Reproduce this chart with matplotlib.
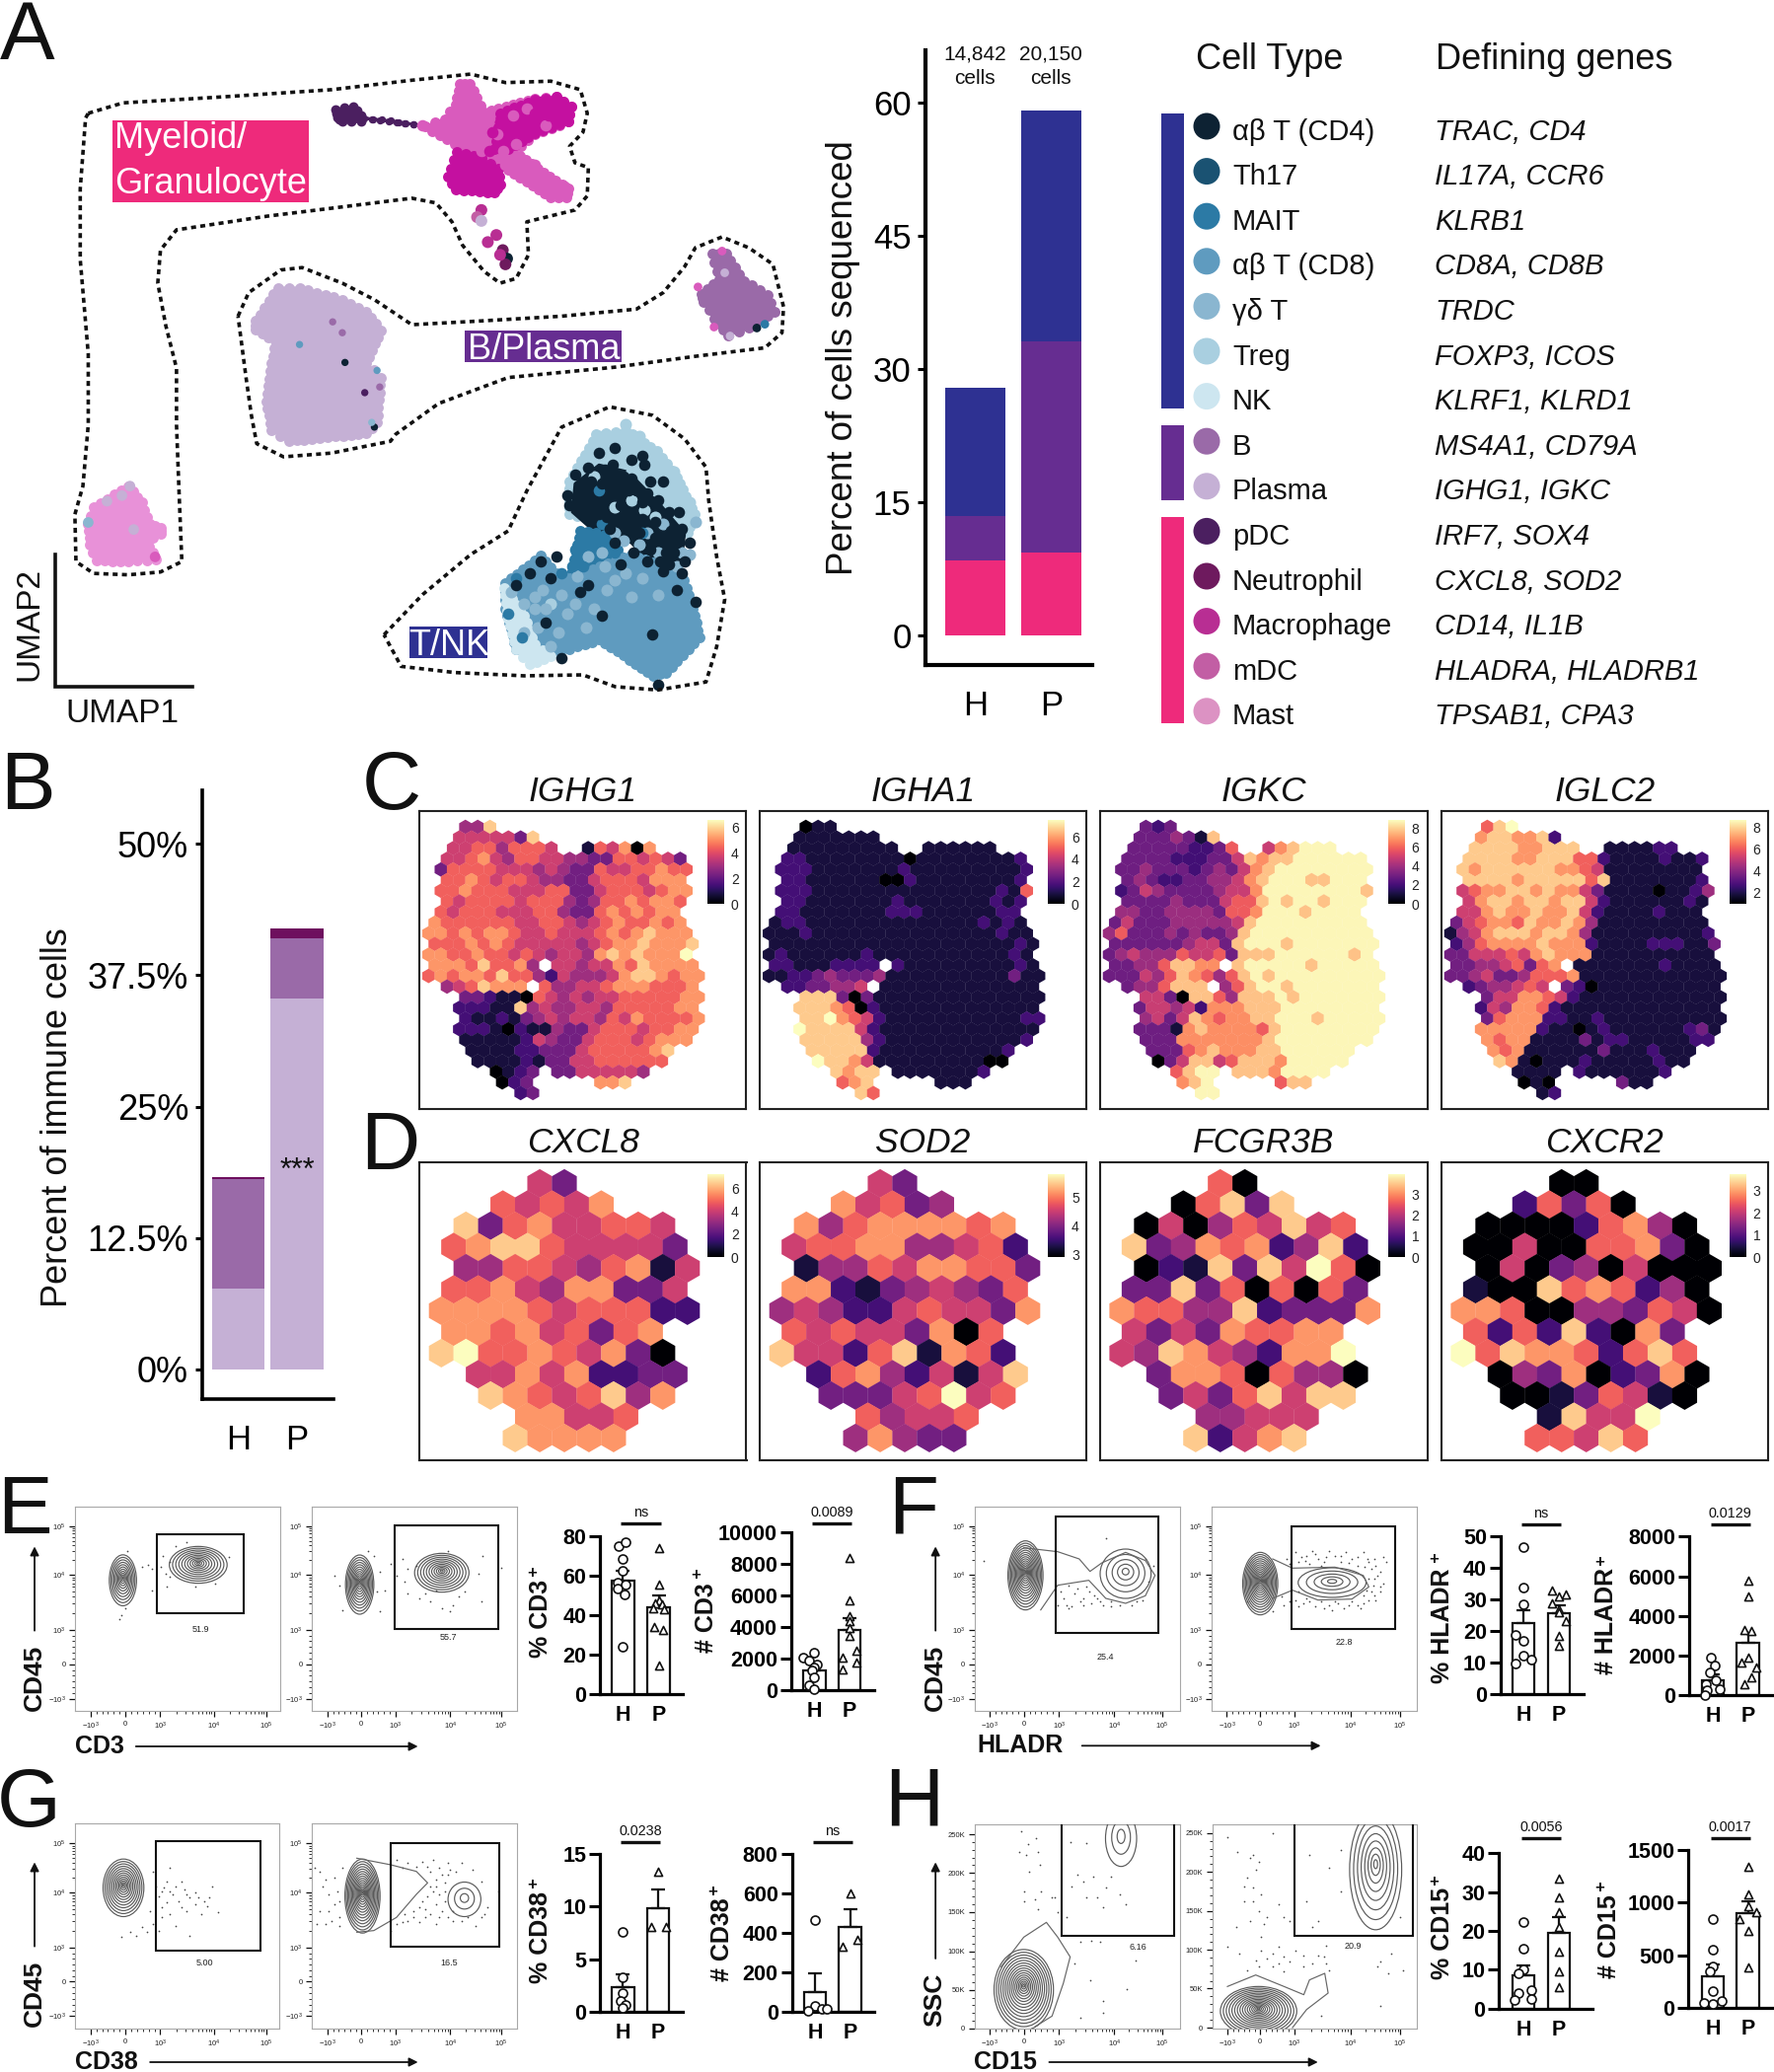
import numpy as np
import matplotlib
matplotlib.use('Agg')
import matplotlib.pyplot as plt
from matplotlib.patches import Ellipse, Polygon, Rectangle

plt.rcParams['font.family'] = ['Liberation Sans', 'DejaVu Sans']
plt.rcParams['mathtext.default'] = 'regular'

W, H = 1799, 2100

# ---- panel A stacked bars
a_myeloid = [8.4, 9.3]
a_bplasma = [5.0, 23.8]
a_tnk = [14.5, 26.0]
a_ticks = [0, 15, 30, 45, 60]
a_cells = ['14,842\ncells', '20,150\ncells']

cell_types = ['αβ T (CD4)', 'Th17', 'MAIT', 'αβ T (CD8)', 'γδ T', 'Treg', 'NK', 'B', 'Plasma',
              'pDC', 'Neutrophil', 'Macrophage', 'mDC', 'Mast']
cell_genes = ['TRAC, CD4', 'IL17A, CCR6', 'KLRB1', 'CD8A, CD8B', 'TRDC', 'FOXP3, ICOS', 'KLRF1, KLRD1',
              'MS4A1, CD79A', 'IGHG1, IGKC', 'IRF7, SOX4', 'CXCL8, SOD2', 'CD14, IL1B',
              'HLADRA, HLADRB1', 'TPSAB1, CPA3']
cell_colors = ['#0d2233', '#1a5272', '#2c7aa5', '#5f9bbf', '#8ab6d0', '#a9cfe0', '#cde6f0', '#9a6aa8',
               '#c5b0d5', '#4b1f60', '#6e1a5e', '#b82e93', '#c25ea4', '#dc92c3']

# ---- panel B stacked bars
b_plasma = [7.7, 35.3]
b_b = [10.4, 5.7]
b_neut = [0.2, 1.0]
b_ticks = [0, 12.5, 25, 37.5, 50]
b_ticklabels = ['0%', '12.5%', '25%', '37.5%', '50%']

# ---- hex maps (0 = darkest, 9 = palest), one string per row
ighg1 = [
    "   448",
    "  5555538",
    "  556646665  165707",
    " 55675466554433665653",
    " 366665554543365566766",
    " 66765665443356665777",
    " 667666555663356665677",
    " 65666656664346676776",
    " 65666555664336767677",
    "766666655665456766767",
    "7767677655655567678777",
    "6667676555554567787778",
    "7766766565455478787779",
    "777686674 554557687777",
    "67677686642544457887677",
    " 4568777 6445567776667",
    "   33211065454556666677",
    "  22211845445546666677",
    "   21121345455465766667",
    "  22210211433566656677",
    "   1111125433566656777",
    "   11112233356666678",
    "    1111213355666666",
    "     0123 33555554",
    "      023     778",
    "       23",
]
igha1 = [
    "   011",
    "  1111111",
    "  111111111  111111",
    " 22111111110111111112",
    " 222111111121111111112",
    " 22111111002111111112",
    " 222111111111111111216",
    " 22111111121111111212",
    " 22111111122211111122",
    "122111111111111112121",
    "1112111111111111111211",
    "1111111111111111111121",
    "1211111121111111111121",
    "221112222 211111111121",
    "11223433341111111111311",
    " 2233445 1111111111111",
    "   88830311111111111111",
    "  88876021111111111111",
    "   88976521111111111122",
    "  98888521111111111111",
    "   8888842111111111112",
    "   88888211111111112",
    "    9887511111111100",
    "     8788 11111112",
    "      678     111",
    "       86",
]
igkc = [
    "   323",
    "  3334318",
    "  333332236  578999",
    " 33332223358788999999",
    " 334333234357899999999",
    " 34322334457899988999",
    " 235433334557999999998",
    " 33334333566898998999",
    " 44334444366799989999",
    "353334444458999999999",
    "4633343433489999999999",
    "3333334553899989999999",
    "3454446556388899999989",
    "334468877 899999899999",
    "33354687646898999999999",
    " 3446888 4689989999999",
    "   55308864888989999999",
    "  35545277788899999999",
    "   45358767788999899999",
    "  33317877776899999999",
    "   3337777777899999999",
    "   33367877788999999",
    "    0358856888799999",
    "     6899 88879999",
    "      789     688",
    "       99",
]
iglc2 = [
    "   689",
    "  7887782",
    "  888877888  111122",
    " 88887788866211112112",
    " 87888888776511111111",
    " 88887888886811111112",
    " 567788787753111101124",
    " 57887887885211111121",
    " 55787787785211112111",
    "356776877874111111111",
    "1457888788741111111112",
    "2467777877721111222113",
    "3355565787771111111111",
    "334456367 111111121111",
    "33453346667111111111111",
    " 2344565 3201111111111",
    "   35577652111111111111",
    "  25477621111111111111",
    "   36777221121111111111",
    "  77777211012111111231",
    "   7677111131221111122",
    "   76711111131112111",
    "    8710111211111211",
    "     1111 21111112",
    "      010     311",
    "       12",
]
cxcl8 = ["    53", "  65657", " 836755665", "6788655553", " 4466546715", "6675477335",
         "77776566622", "776756367", "8966765730", " 557572233", "  87656847", "   77556", "   87777"]
sod2 = ["    53", "  75634", " 746777767", "5667744562", " 1446577663", "7721345436",
        "45422565537", "656553706", "8552681762", " 267425158", "  33356956", "   64556", "   47433"]
fcgr3b = ["    60", "  06838", " 050465856", "8347672482", " 0218385960", "3383606063",
          "76644823337", "535376677", "5487542779", " 377606440", "  35368588", "   44555", "   82578"]
cxcr2 = ["    00", "  26360", " 000026740", "0050066730", " 0503405000", "1008676240",
         "77600443650", "626282073", "9687762686", " 043702370", "  00136510", "   18559", "   66586"]

c_names = ['IGHG1', 'IGHA1', 'IGKC', 'IGLC2']
d_names = ['CXCL8', 'SOD2', 'FCGR3B', 'CXCR2']
c_scale = [(0, 6.6, [0, 2, 4, 6]), (0, 7.5, [0, 2, 4, 6]), (0, 8.9, [0, 2, 4, 6, 8]), (1, 8.7, [2, 4, 6, 8])]
d_scale = [(0, 7.3, [0, 2, 4, 6]), (2.9, 5.8, [3, 4, 5]), (0, 3.95, [0, 1, 2, 3]), (0, 3.75, [0, 1, 2, 3])]

# ---- summary bars for E-H: point values, their jitter, mean and error
e1_h = [74.7, 76.7, 68.5, 62.5, 56.5, 55.5, 53.5, 50.5, 24.0]
e1_hj = [-7, 4, 0, 0, -10, 5, -10, 3, 0]
e1_p = [74, 55.4, 47.6, 46, 45.5, 43.5, 43, 34, 32.7, 14.4]
e1_pj = [0, 0, 0, -6, 6, -10, 10, -8, 8, 0]
e2_h = [2386, 2075, 1867, 1660, 1452, 1245, 830, 311, 104]
e2_hj = [0, -20, -10, 5, 0, -5, 0, -10, 0]
e2_p = [8340, 5705, 4668, 4357, 3942, 3423, 2490, 2075, 1763, 1349]
e2_pj = [0, 0, 0, 0, 0, 0, 12, -13, 12, -13]
f1_h = [46.5, 33.7, 28.6, 18.8, 16.7, 12.0, 11.0, 9.6]
f1_hj = [0, 0, 0, -13, 0, 0, 14, -13]
f1_p = [33, 31.6, 31.0, 28.8, 27, 26, 23, 18.3, 15.2]
f1_pj = [-13, 13, 0, -13, 0, 0, 13, 0, 0]
f2_h = [1890, 1477, 1145, 730, 564, 315, 232, 0]
f2_hj = [-4, 4, -5, 6, -12, 12, -10, -14]
f2_p = [5790, 4960, 3300, 3220, 1890, 1640, 1394, 896, 564]
f2_pj = [0, 0, -6, 6, 0, -12, 14, 6, -6]
g1_h = [7.56, 3.3, 1.8, 1.0, 0.7, 0.4]
g1_hj = [0, 0, 0, -5, 5, 0]
g1_p = [13.3, 8.1, 8.1]
g1_pj = [0, -13, 13]
g2_h = [465, 28, 15, 3, 15]
g2_hj = [0, 0, 12, -12, 20]
g2_p = [598, 365, 332]
g2_pj = [0, 12, -13]
h1_h = [22.2, 15.3, 10.0, 9.1, 4.8, 4.0, 2.5, 2.1]
h1_hj = [0, 0, 0, -8, 14, -8, 14, -15]
h1_p = [33.4, 28.7, 24.9, 20.9, 14.6, 9.5, 5.5]
h1_pj = [0, 0, 0, 0, 0, 0, 0]
h2_h = [844, 556, 390, 344, 156, 62, 47, 40]
h2_hj = [0, 0, 0, -5, 0, 16, -16, 0]
h2_p = [1337, 1078, 969, 906, 844, 734, 381]
h2_pj = [0, 0, 0, 14, -15, 0, 0]

e1_mean, e1_err = [57.5, 44.0], [5.0, 5.8]
e2_mean, e2_err = [1245, 3800], [515, 760]
f1_mean, f1_err = [22.5, 25.6], [4.2, 2.6]
f2_mean, f2_err = [730, 2640], [330, 500]
g1_mean, g1_err = [2.35, 9.8], [1.25, 1.8]
g2_mean, g2_err = [100, 432], [95, 88]
h1_mean, h1_err = [8.56, 19.6], [2.5, 3.9]
h2_mean, h2_err = [303, 903], [113, 113]

# ---- umap cells, in the coordinates of the layout crop
cd4_cells = [(1065, 1070), (1085, 1030), (1100, 990), (1120, 960), (1150, 950), (1180, 975), (1200, 965), (1090, 1090),
             (1115, 1065), (1140, 1030), (1165, 1010), (1190, 1040), (1215, 1020), (1230, 1060), (1250, 1085),
             (1275, 1120), (1260, 1170), (1240, 1210), (1265, 1250), (1300, 1275), (1125, 1305), (1220, 1345),
             (1150, 1150), (1175, 1120), (1200, 1100), (1225, 1140), (1280, 1190), (1040, 1180), (1010, 1190),
             (1030, 1225), (1020, 1320), (1240, 1020), (1205, 985), (1290, 1150), (1075, 1005), (1135, 1095),
             (1160, 1070), (1255, 1125), (990, 1215), (1050, 1395), (1085, 1255), (1160, 1195), (1245, 1170),
             (965, 1240), (1210, 1190), (1145, 985), (1270, 1085), (1060, 1050), (1230, 1450), (1100, 1240),
             (1095, 1060), (1125, 1025), (1150, 1050), (1175, 1040), (1200, 1065), (1120, 1090), (1170, 1090),
             (1195, 1130), (1225, 1105), (1245, 1140), (1265, 1150), (1215, 1165), (1185, 1170), (1250, 1195),
             (1275, 1215), (1180, 1015), (1130, 995), (1105, 1020), (1210, 1045), (1235, 1190), (1140, 1120)]
treg_cells = [(1150, 925), (1190, 940), (1220, 965), (1240, 990), (1265, 1030), (1290, 1065), (1255, 1060), (1230, 985),
              (1170, 900), (1120, 925), (1295, 1095), (1210, 1010), (1180, 1000), (1260, 1000), (1275, 1080),
              (1110, 1010), (1225, 1095), (1030, 1280), (1180, 1060), (1150, 1075), (1195, 925), (1135, 940),
              (1245, 1030), (1280, 1060), (1225, 1040), (1165, 945), (1205, 1080)]
gd_cells = [(1130, 1200), (1170, 1215), (1200, 1225), (1100, 1180), (1230, 1260), (1180, 1265), (1135, 1250), (1050, 1260),
            (1015, 1250), (1000, 1290), (1060, 1300), (1095, 1330), (1045, 1340), (980, 1280), (1290, 1175),
            (1230, 1170), (1150, 1130), (1195, 1155), (1265, 1200), (955, 1255), (1030, 1370), (1080, 1220),
            (1300, 1105), (1125, 1170), (1005, 1330), (1210, 1130), (1240, 1110), (1275, 1170), (1165, 1145),
            (1020, 1290), (1075, 1280), (1110, 1290), (1150, 1230), (980, 1340), (1000, 1265)]
mait_cells = [(1120, 1040), (1095, 1130), (1075, 1165), (1150, 1170), (965, 1225), (1125, 1110), (1200, 1130), (950, 1300),
              (1090, 1200), (1070, 1200), (1110, 1150), (1050, 1215), (975, 1350)]
mye_cells = [(870, 300), (915, 250), (945, 350), (1000, 350), (1055, 395), (985, 230), (1020, 265), (900, 320), (790, 265),
             (830, 285), (1030, 385), (960, 245), (940, 320), (905, 300), (930, 285), (880, 290), (965, 305)]
mac_cells = [(1000, 240), (1040, 225), (990, 265), (960, 275), (1025, 245), (920, 280), (1010, 215), (900, 345), (915, 320)]
small_cells = [(900, 445), (892, 460), (900, 468), (928, 498), (912, 513), (940, 530), (948, 548), (945, 560), (935, 540)]
small_colors = ['#b82e93', '#c25ea4', '#c5b0d5', '#b82e93', '#b82e93', '#6e1a5e', '#0d2233', '#6e1a5e', '#b82e93']
plasma_specks = [(622, 682), (560, 730), (640, 705), (645, 768), (682, 832), (705, 785), (710, 820), (700, 905), (695, 895)]
speck_colors = ['#9a6aa8', '#5f9bbf', '#9a6aa8', '#0d2233', '#4b1f60', '#5f9bbf', '#9a6aa8', '#0d2233', '#8ab6d0']
b_specks = [(1305, 608), (1335, 693), (1415, 695), (1430, 687), (1350, 532), (1355, 578), (1365, 712)]
b_speck_colors = ['#d95bbd', '#d95bbd', '#0d2233', '#2c7aa5', '#d95bbd', '#c5b0d5', '#c5b0d5']
mast_specks = [(165, 1107), (200, 1062), (228, 1050), (243, 1030), (250, 1122), (290, 1180)]
mast_speck_colors = ['#8ab6d0', '#c5b0d5', '#c5b0d5', '#c5b0d5', '#c5b0d5', '#d95bbd']

# ---- flow cytometry: populations as (x, y, width, height, rings) in the layout crop
e_left_pops = [(217, 365, 48, 155, 11), (350, 318, 102, 112, 11)]
e_right_pops = [(635, 378, 50, 180, 13), (780, 342, 96, 118, 11)]
f_left_pops = [(243, 350, 62, 210, 16), (420, 345, 90, 150, 5)]
f_right_pops = [(658, 375, 62, 190, 16), (785, 372, 120, 90, 5)]
g_left_pops = [(218, 400, 72, 175, 13)]
g_right_pops = [(640, 425, 62, 225, 16), (820, 435, 58, 105, 3)]
h_left_pops = [(240, 710, 105, 245, 16), (412, 250, 55, 170, 3)]
h_right_pops = [(655, 775, 135, 150, 16), (862, 345, 92, 365, 8)]

f_left_bridge = [(240, 266), (300, 278), (338, 300), (357, 338), (378, 312), (420, 280), (455, 305), (472, 350),
                 (455, 412), (420, 435), (385, 420), (355, 365), (300, 380), (270, 455)]
f_right_bridge = [(680, 300), (715, 328), (790, 325), (840, 350), (850, 385), (820, 422), (760, 425), (715, 395), (680, 420)]
g_right_bridge = [(630, 310), (690, 330), (735, 350), (755, 385), (735, 420), (700, 490), (660, 530), (630, 535)]
h_left_bridge = [(200, 640), (240, 550), (280, 505), (300, 550), (322, 610), (310, 690), (290, 790), (260, 822)]
h_right_bridge = [(600, 700), (650, 665), (700, 700), (735, 725), (745, 680), (772, 660), (778, 720), (740, 770), (715, 825)]

e_left_dots = [(250, 325), (262, 318), (268, 330), (288, 292), (284, 325), (292, 345), (300, 310), (310, 262), (330, 250), (295, 385),
               (268, 395), (225, 275), (215, 470), (222, 450), (210, 482), (300, 355), (380, 375), (345, 385), (405, 295)]
e_right_dots = [(650, 275), (660, 290), (590, 352), (600, 380), (605, 455), (670, 340), (680, 395), (670, 460), (710, 300), (720, 330),
                (715, 370), (735, 320), (720, 405), (740, 420), (760, 430), (780, 450), (800, 440), (820, 400), (850, 430), (845, 345),
                (852, 290), (885, 328), (770, 395), (795, 460), (750, 405), (700, 350), (690, 315), (665, 400), (810, 415), (790, 275)]
f_left_dots = [(170, 305), (385, 237), (320, 380), (330, 405), (345, 420), (360, 435), (310, 420), (325, 445), (345, 440), (370, 420),
               (380, 440), (395, 430), (440, 430), (455, 300), (460, 370), (300, 440), (335, 390), (355, 400), (395, 445), (470, 320),
               (305, 400), (315, 440), (340, 430), (350, 385), (365, 410), (375, 430), (320, 450), (410, 440), (430, 440), (450, 425)]
f_right_dots = [(720, 280), (740, 290), (760, 300), (780, 275), (800, 290), (820, 300), (840, 280), (860, 300), (875, 295), (725, 310),
                (745, 315), (770, 310), (800, 310), (830, 320), (855, 330), (865, 350), (870, 385), (860, 410), (850, 425), (830, 440),
                (805, 450), (780, 440), (755, 445), (735, 435), (720, 425), (700, 440), (680, 460), (635, 430), (850, 360), (855, 400),
                (725, 400), (740, 420), (765, 430), (790, 428), (820, 428), (840, 412), (848, 300), (790, 290), (750, 275), (705, 300),
                (730, 295), (755, 285), (775, 295), (810, 280), (830, 295), (850, 310), (862, 320), (870, 340), (860, 360), (858, 380),
                (845, 395), (862, 425), (840, 435), (815, 440), (795, 435), (770, 450), (745, 430), (725, 445), (710, 430), (695, 415),
                (870, 400), (875, 375), (738, 305), (765, 322), (815, 312), (842, 325), (710, 315), (880, 310), (835, 450), (785, 455)]
g_left_dots = [(275, 395), (285, 410), (295, 380), (300, 340), (305, 420), (315, 440), (325, 405), (335, 430), (345, 415), (360, 440),
               (375, 395), (385, 475), (370, 430), (355, 480), (330, 470), (300, 480), (285, 460), (270, 510), (280, 530), (335, 545),
               (250, 520), (240, 545), (230, 535), (215, 550), (270, 350), (345, 450), (320, 380), (295, 445), (310, 515), (265, 470),
               (280, 425), (290, 400), (310, 395), (330, 420), (350, 430), (365, 455), (320, 460), (300, 410), (285, 490), (260, 535)]
g_right_dots = [(555, 340), (570, 395), (580, 420), (590, 450), (560, 510), (585, 500), (600, 490), (605, 340), (590, 370), (700, 315),
                (720, 325), (745, 320), (765, 315), (790, 325), (815, 325), (835, 345), (760, 395), (775, 420), (770, 450), (760, 480),
                (740, 505), (720, 500), (700, 510), (790, 490), (815, 500), (840, 515), (855, 480), (785, 385), (760, 350), (745, 440),
                (730, 470), (770, 510), (800, 470), (780, 360), (805, 350), (850, 380), (880, 410), (750, 465), (715, 480), (690, 530),
                (565, 350), (575, 375), (595, 410), (565, 470), (580, 470), (600, 440), (575, 510), (600, 515), (710, 340), (735, 335),
                (755, 335), (775, 340), (795, 345), (770, 375), (765, 410), (785, 440), (780, 470), (750, 490), (730, 490), (710, 505),
                (775, 490), (800, 500), (825, 490), (850, 490), (860, 460), (785, 410), (755, 425), (740, 460), (770, 395), (790, 360)]
h_left_dots = [(235, 228), (262, 250), (248, 268), (232, 290), (268, 330), (240, 410), (260, 435), (290, 430), (322, 262), (350, 265),
               (335, 360), (362, 365), (325, 395), (370, 430), (385, 400), (350, 430), (315, 490), (380, 460), (340, 565), (360, 560),
               (330, 630), (358, 680), (437, 620), (422, 708), (380, 745), (340, 795), (380, 780), (295, 430), (410, 420), (420, 450),
               (245, 300), (265, 290), (250, 350), (240, 440), (270, 410), (265, 465), (300, 475), (375, 565), (345, 380), (395, 365)]
h_right_dots = [(600, 245), (680, 235), (617, 290), (645, 300), (655, 320), (635, 370), (645, 400), (660, 420), (630, 440), (655, 470),
                (670, 490), (640, 500), (660, 550), (680, 600), (650, 620), (600, 580), (700, 610), (720, 590), (760, 605), (775, 630),
                (870, 625), (910, 650), (885, 660), (800, 285), (760, 500), (750, 520), (775, 575), (710, 500), (700, 490), (905, 490),
                (870, 760), (765, 790), (740, 440), (800, 410), (780, 340), (745, 300), (690, 450), (615, 520), (890, 600), (865, 640),
                (640, 310), (650, 345), (630, 395), (645, 440), (665, 510), (690, 580), (670, 615), (655, 640), (690, 630), (735, 605),
                (750, 630), (710, 625), (735, 640), (680, 640), (660, 590), (620, 600), (635, 650), (700, 655), (770, 610), (780, 650)]


def crop_axes(x0, x1, y0, y1, xlim, ylim, zorder=2):
    ax = fig.add_axes([x0 / W, 1 - y1 / H, (x1 - x0) / W, (y1 - y0) / H], zorder=zorder)
    ax.set_xlim(*xlim)
    ax.set_ylim(*ylim)
    ax.patch.set_alpha(0)
    return ax


def px(crop, zx, zy):
    return crop[0] + zx / crop[2], crop[1] + zy / crop[3]


fig = plt.figure(figsize=(W / 100, H / 100), dpi=100, facecolor='white')
ov = crop_axes(0, W, 0, H, (0, W), (H, 0), zorder=1)
ov.set_xticks([])
ov.set_yticks([])
ov.axis('off')


def txt(x, y, s, size, **kw):
    kw.setdefault('ha', 'center')
    kw.setdefault('va', 'center')
    kw.setdefault('color', '#111111')
    return ov.text(x, y, s, fontsize=size, **kw)


for letter, lx, ly in [('A', 0, 60), ('B', 0, 820), ('C', 367, 820), ('D', 365, 1185),
                       ('E', -3, 1554), ('F', 900, 1554), ('G', -3, 1851), ('H', 896, 1851)]:
    txt(lx, ly, letter, 60, ha='left', va='baseline')

# ---------- panel A, umap
ua = crop_axes(0, 850, 0, 750, (0, 1568), (1568, 0), zorder=2)
ua.set_xticks([])
ua.set_yticks([])
ua.axis('off')


def blob(points, color, z=2, edge=True, s=62):
    ua.add_patch(Polygon(points, closed=True, facecolor=color, edgecolor=color, lw=2, joinstyle='round', zorder=z))
    if not edge:
        return
    # cell-sized dots round the edge give the bumpy outline
    a = np.array(points + points[:1], dtype=float)
    xs, ys = [], []
    for p, q in zip(a[:-1], a[1:]):
        n = max(2, int(np.hypot(*(q - p)) / 14))
        xs += list(np.linspace(p[0], q[0], n, endpoint=False))
        ys += list(np.linspace(p[1], q[1], n, endpoint=False))
    ua.scatter(xs, ys, s=s, c=color, linewidths=0, zorder=z)


blob([(175, 1075), (240, 1030), (265, 1065), (280, 1110), (300, 1118), (300, 1132), (272, 1145), (292, 1185), (240, 1190),
      (180, 1188), (168, 1155), (165, 1110)], '#e891d8')
blob([(478, 680), (520, 610), (560, 610), (640, 635), (685, 660), (712, 700), (685, 770), (712, 800), (705, 895), (685, 918),
      (540, 935), (508, 912), (498, 850), (508, 770), (515, 722), (478, 698)], '#c5b0d5')
blob([(1332, 538), (1358, 538), (1390, 595), (1435, 625), (1448, 660), (1400, 695), (1362, 710), (1335, 675), (1316, 640),
      (1312, 622), (1345, 592)], '#9a6aa8')
blob([(628, 232), (660, 225), (675, 245), (675, 258), (640, 258), (630, 248)], '#4b1f60', s=50)
blob([(680, 250), (730, 256), (788, 266)], '#4b1f60', s=28)
blob([(860, 178), (878, 178), (905, 238), (1000, 210), (1040, 205), (1068, 225), (1062, 258), (1000, 285), (960, 322), (1062, 400),
      (1058, 418), (1030, 418), (950, 360), (920, 335), (850, 305), (795, 268), (832, 252), (852, 222)], '#d95bbd')
blob([(935, 240), (1000, 212), (1040, 205), (1068, 225), (1062, 258), (1000, 283), (950, 315), (925, 315)], '#c410a0', 3)
blob([(855, 322), (900, 335), (932, 358), (936, 390), (925, 408), (852, 402), (838, 375)], '#c410a0', 3)
blob([(1115, 920), (1170, 912), (1228, 955), (1265, 1012), (1298, 1090), (1285, 1130), (1065, 1090), (1065, 1020)], '#a9cfe0')
blob([(1075, 1025), (1120, 985), (1175, 1000), (1235, 1070), (1280, 1130), (1272, 1215), (1235, 1215), (1180, 1150), (1100, 1115),
      (1070, 1085)], '#0d2233', 3, edge=False)
blob([(1085, 1125), (1145, 1135), (1160, 1180), (1090, 1220), (1068, 1215)], '#2c7aa5', 3)
blob([(1065, 1225), (1180, 1175), (1275, 1215), (1295, 1290), (1308, 1350), (1245, 1425), (1222, 1432), (1120, 1355), (1080, 1370),
      (1000, 1395), (965, 1375), (945, 1290), (945, 1235), (1010, 1178), (1040, 1215)], '#5f9bbf', 3)
blob([(942, 1245), (980, 1305), (1000, 1365), (1030, 1390), (990, 1408), (965, 1375), (950, 1310)], '#cde6f0', 4)


def cells(pts, color, s, z=5):
    a = np.array(pts)
    ua.scatter(a[:, 0], a[:, 1], s=s, c=color, linewidths=0, zorder=z)


cells(treg_cells, '#a9cfe0', 75)
cells(gd_cells, '#8ab6d0', 75, 6)
cells(mait_cells, '#2c7aa5', 70, 6)
cells(cd4_cells, '#0d2233', 70, 7)
cells(mye_cells, '#d95bbd', 70)
cells(mac_cells, '#c410a0', 70)
cells(small_cells, small_colors, 75)
cells(plasma_specks, speck_colors, 28)
cells(b_specks, b_speck_colors, 40)
cells(mast_specks, mast_speck_colors, 60)

outer = [(165, 240), (230, 218), (420, 205), (620, 190), (770, 170), (880, 157), (945, 175), (1030, 172), (1085, 190), (1098, 240),
         (1090, 280), (1065, 310), (1075, 345), (1100, 355), (1098, 415), (1075, 445), (985, 470), (988, 540), (965, 590), (935, 600),
         (905, 575), (865, 520), (845, 470), (815, 430), (770, 420), (650, 437), (500, 458), (330, 487), (300, 530), (295, 600),
         (310, 690), (330, 780), (330, 900), (335, 1050), (340, 1190), (300, 1212), (240, 1218), (175, 1215), (142, 1190), (140, 1090),
         (155, 1030), (165, 900), (165, 750), (150, 550), (150, 400), (160, 250), (165, 240)]
b_loop = [(445, 670), (465, 620), (525, 572), (565, 567), (640, 600), (700, 635), (770, 688), (900, 680), (1050, 670), (1190, 655),
          (1240, 620), (1280, 565), (1300, 525), (1350, 502), (1400, 525), (1445, 560), (1465, 650), (1462, 705), (1430, 737), (1300, 755),
          (1150, 778), (950, 800), (820, 855), (740, 920), (730, 935), (620, 960), (530, 968), (480, 940), (470, 880), (460, 800), (445, 670)]
t_loop = [(718, 1345), (790, 1260), (880, 1175), (950, 1125), (985, 1040), (1050, 905), (1140, 862), (1220, 880), (1280, 930), (1320, 990),
          (1325, 1060), (1340, 1180), (1355, 1270), (1340, 1370), (1320, 1445), (1230, 1462), (1150, 1455), (1090, 1430), (980, 1432),
          (850, 1425), (750, 1412), (718, 1345)]
for loop in (outer, b_loop, t_loop):
    a = np.array(loop)
    ua.plot(a[:, 0], a[:, 1], color='#111111', lw=2.6, ls=(0, (1.4, 1.2)), zorder=8)

lbl_ax = crop_axes(0, W, 0, H, (0, W), (H, 0), zorder=9)
lbl_ax.set_xticks([])
lbl_ax.set_yticks([])
lbl_ax.axis('off')
for x0, y0, x1, y1, c in [(114, 122, 313, 205, '#ee2a7b'), (471.5, 335, 630, 367, '#662d91'), (415, 635, 494, 667, '#2e3192')]:
    lbl_ax.add_patch(Rectangle((x0, y0), x1 - x0, y1 - y0, facecolor=c, edgecolor='none'))
for lx, ly, s, ha in [(116, 141, 'Myeloid/', 'left'), (116, 186, 'Granulocyte', 'left'), (551, 354, 'B/Plasma', 'center'), (455, 654, 'T/NK', 'center')]:
    lbl_ax.text(lx, ly, s, fontsize=26, color='white', ha=ha, va='center')
ov.plot([56, 56, 195], [562, 696, 696], color='#111111', lw=2.6, solid_joinstyle='miter')
txt(30, 632, 'UMAP2', 24, rotation=90)
txt(124, 724, 'UMAP1', 24)

# ---------- panel A bars
ab = crop_axes(937.5, 1107, 51, 674, (-0.662, 1.539), (-3.37, 65.9))
xa = [0, 1]
ab.bar(xa, a_myeloid, 0.79, color='#ee2a7b')
ab.bar(xa, a_bplasma, 0.79, bottom=a_myeloid, color='#662d91')
ab.bar(xa, a_tnk, 0.79, bottom=np.add(a_myeloid, a_bplasma), color='#2e3192')
ab.set_yticks(a_ticks)
ab.set_xticks(xa, ['H', 'P'])
ab.tick_params(axis='y', labelsize=25, length=6, width=2.2, pad=4)
ab.tick_params(axis='x', labelsize=25, length=0, pad=18)
for s in ('top', 'right'):
    ab.spines[s].set_visible(False)
for s in ('left', 'bottom'):
    ab.spines[s].set_linewidth(3)
txt(855, 363, 'Percent of cells sequenced', 26.5, rotation=90)
txt(988, 67, a_cells[0], 15, linespacing=1.35)
txt(1065, 67, a_cells[1], 15, linespacing=1.35)

# legend table
txt(1212, 60, 'Cell Type', 26, ha='left')
txt(1455, 60, 'Defining genes', 26, ha='left')
for y0, y1, c in [(115, 414, '#2e3192'), (431, 507, '#662d91'), (524, 733, '#ee2a7b')]:
    ov.add_patch(Rectangle((1177.5, y0), 22.5, y1 - y0, facecolor=c, edgecolor='none'))
ly = 128 + 45.6 * np.arange(len(cell_types))
ov.scatter([1223] * len(ly), ly, s=(27 * 0.72) ** 2, c=cell_colors, linewidths=0)
for y, name, gene in zip(ly, cell_types, cell_genes):
    txt(1249, y + 5.5, name, 21, ha='left')
    txt(1454, y + 5.5, gene, 21, ha='left', style='italic')

# ---------- panel B
bb = crop_axes(205, 338, 801, 1418, (-0.613, 1.62), (-2.83, 55.1))
bb.bar(xa, b_plasma, 0.9, color='#c5b0d5')
bb.bar(xa, b_b, 0.9, bottom=b_plasma, color='#9a6aa8')
bb.bar(xa, b_neut, 0.9, bottom=np.add(b_plasma, b_b), color='#6e0f5e')
bb.set_yticks(b_ticks, b_ticklabels)
bb.set_xticks(xa, ['H', 'P'])
bb.tick_params(axis='y', labelsize=26, length=5, width=2.2, pad=5)
bb.tick_params(axis='x', labelsize=25, length=0, pad=18)
for s in ('top', 'right'):
    bb.spines[s].set_visible(False)
for s in ('left', 'bottom'):
    bb.spines[s].set_linewidth(2.6)
bb.text(1, 18.9, '***', fontsize=22, ha='center', va='center', color='#111111')
txt(59, 1133, 'Percent of immune cells', 26, rotation=90)

# ---------- panels C and D, hex maps
box_x = [(425, 756.5), (770, 1101), (1114.7, 1447), (1460.7, 1792)]


def hexmap(rows, x0, x1, y0, y1, dx, dy, offx, offy, size, vmax=9):
    ax = crop_axes(x0, x1, y0, y1, (-offx / dx, (x1 - x0 - offx) / dx), ((y1 - y0 - offy) / dy, -offy / dy), zorder=2)
    cols, rws, vals = [], [], []
    for r, row in enumerate(rows):
        for i, ch in enumerate(row):
            if ch != ' ':
                cols.append(2 * i + r % 2)
                rws.append(r)
                vals.append(int(ch))
    ax.scatter(cols, rws, c=vals, cmap='magma', vmin=0, vmax=vmax, marker='h', s=size, linewidths=0)
    ax.set_xticks([])
    ax.set_yticks([])
    for s in ax.spines.values():
        s.set_linewidth(1.5)
        s.set_color('#222222')
    return ax


def colorbar(x0, y0, y1, scale):
    lo, hi, ticks = scale
    cb = crop_axes(x0, x0 + 17, y0, y1, (0, 1), (lo, hi), zorder=3)
    cb.imshow(np.linspace(1, 0, 256)[:, None], cmap='magma', aspect='auto', extent=(0, 1, lo, hi))
    cb.set_xticks([])
    cb.yaxis.tick_right()
    cb.set_yticks(ticks)
    cb.tick_params(axis='y', length=0, labelsize=10, pad=5, labelcolor='#222222')
    for s in cb.spines.values():
        s.set_visible(False)


for (bx0, bx1), rows, name, sc, vm in zip(box_x, [ighg1, igha1, igkc, iglc2], c_names, c_scale, [9, 9, 9.15, 9]):
    hexmap(rows, bx0, bx1, 822, 1124, 6.22, 10.79, 9.4, 16.07, 112, vm)
    colorbar(bx0 + 292, 831, 916, sc)
    txt((bx0 + bx1) / 2, 802, name, 25.5, style='italic')
for (bx0, bx1), rows, name, sc in zip(box_x, [cxcl8, sod2, fcgr3b, cxcr2], d_names, d_scale):
    hexmap(rows, bx0, bx1, 1177.5, 1480, 12.47, 21.5, 22.3, 21.9, 439)
    colorbar(bx0 + 292, 1190, 1274, sc)
    txt((bx0 + bx1) / 2, 1158, name, 25.5, style='italic')

# ---------- flow plots
CROP_E = (0, 1480, 1.742, 3.0)
CROP_F = (900, 1480, 1.744, 3.0)
CROP_G = (0, 1780, 1.742, 3.0)
CROP_H = (900, 1780, 1.744, 3.0)


def minor_between(majors):
    out = []
    for a, b in zip(majors[2:-1], majors[3:]):
        out += list(a + (b - a) * np.log10(np.arange(2, 10)))
    for a, b in zip(majors[:2], majors[1:3]):
        out += list(np.linspace(a, b, 7)[1:-1])
    return out


def flow(crop, xr, yr, gate, pops, dots, bridges, xt, yt, gate_label, scatter_y=False):
    xa0, ya0 = px(crop, xr[0], yr[0])
    xa1, ya1 = px(crop, xr[1], yr[1])
    ax = crop_axes(xa0, xa1, ya0, ya1, xr, (yr[1], yr[0]), zorder=3)
    for s in ax.spines.values():
        s.set_linewidth(0.8)
        s.set_color('#a8a8a8')
    ax.set_xticks(xt, ['$-10^{3}$', '0', '$10^{3}$', '$10^{4}$', '$10^{5}$'])
    ax.set_xticks(minor_between(xt), minor=True)
    if scatter_y:
        ax.set_yticks(yt, ['250K', '200K', '150K', '100K', '50K', '0'])
        ax.set_yticks(np.concatenate([np.linspace(yt[i], yt[i + 1], 6)[1:-1] for i in range(5)]), minor=True)
    else:
        ax.set_yticks(yt, ['$10^{5}$', '$10^{4}$', '$10^{3}$', '0', '$-10^{3}$'])
        rev = list(yt[::-1])
        ax.set_yticks(minor_between(rev), minor=True)
    ax.tick_params(which='major', length=4, width=0.9, labelsize=5.5, pad=3, color='#111111', labelcolor='#222222')
    ax.tick_params(which='minor', length=2, width=0.6, color='#111111')
    d = np.array(dots)
    ax.scatter(d[:, 0], d[:, 1], s=1.5, c='#444444', linewidths=0, zorder=2)
    for cx, cy, w, h, n in pops:
        for k in range(n, 0, -1):
            f = (k / n) ** 1.25
            ax.add_patch(Ellipse((cx, cy - h * 0.05 * (1 - f)), w * f, h * f, fill=False, edgecolor='#5a5a5a', lw=0.85, zorder=3))
    for br in bridges:
        b = np.array(br)
        ax.plot(b[:, 0], b[:, 1], color='#666666', lw=0.85, zorder=3)
    ax.add_patch(Rectangle((gate[0], gate[2]), gate[1] - gate[0], gate[3] - gate[2], fill=False, edgecolor='#111111', lw=1.5, zorder=4))
    ax.text(gate_label[1], gate_label[2], gate_label[0], fontsize=6.5, ha='center', va='center', color='#222222')
    return ax


ty_e = [200, 348, 515, 620, 725]
ty_g = [265, 415, 582, 685, 790]
flow(CROP_E, (133, 495), (140, 763), (277, 431, 225, 464), e_left_pops, e_left_dots, [], [160, 221, 283, 378, 470], ty_e, ('51.9', 354, 515))
flow(CROP_E, (551, 912), (140, 763), (697, 880, 198, 512), e_right_pops, e_right_dots, [], [578, 638, 698, 795, 885], ty_e, ('55.7', 792, 540))
flow(CROP_F, (153, 517), (140, 763), (296, 478, 170, 525), f_left_pops, f_left_dots, [f_left_bridge], [180, 240, 302, 400, 485], ty_e, ('25.4', 385, 600))
flow(CROP_F, (572, 935), (140, 763), (713, 897, 200, 513), f_right_pops, f_right_dots, [f_right_bridge], [599, 658, 718, 818, 905], ty_e, ('22.8', 806, 553))
flow(CROP_G, (133, 493), (205, 828), (276, 460, 258, 590), g_left_pops, g_left_dots, [], [160, 221, 283, 378, 470], ty_g, ('5.00', 362, 627))
flow(CROP_G, (551, 912), (205, 828), (690, 882, 265, 580), g_right_pops, g_right_dots, [g_right_bridge], [578, 638, 698, 795, 885], ty_g, ('16.5', 793, 627))
flow(CROP_H, (153, 517), (208, 828), (307, 505, 205, 547), h_left_pops, h_left_dots, [h_left_bridge], [180, 240, 302, 400, 485],
     [237, 355, 473, 593, 710, 828], ('6.16', 442, 580), scatter_y=True)
flow(CROP_H, (573, 935), (208, 828), (718, 927, 205, 547), h_right_pops, h_right_dots, [h_right_bridge], [600, 658, 718, 818, 905],
     [234, 351, 470, 589, 706, 825], ('20.9', 822, 578), scatter_y=True)


def axis_labels(crop, ylab, yx, yy, y_arrow, xlab, xx, xy, x_arrow):
    bx, by = px(crop, yx, yy)
    txt(bx, by, ylab, 19, rotation=90, weight='bold')
    x0, y0 = px(crop, yx + 1, y_arrow[0])
    x1, y1 = px(crop, yx + 1, y_arrow[1])
    ov.annotate('', xy=(x1, y1), xytext=(x0, y0), arrowprops=dict(arrowstyle='-|>', color='#111111', lw=1.3, mutation_scale=13, shrinkA=0, shrinkB=0))
    bx, by = px(crop, xx, xy)
    txt(bx, by, xlab, 18, ha='left', weight='bold')
    x0, y0 = px(crop, x_arrow[0], xy)
    x1, y1 = px(crop, x_arrow[1], xy)
    ov.annotate('', xy=(x1, y1), xytext=(x0, y0), arrowprops=dict(arrowstyle='-|>', color='#111111', lw=1.3, mutation_scale=13, shrinkA=0, shrinkB=0))


axis_labels(CROP_E, 'CD45', 60, 660, (518, 262), 'CD3', 132, 870, (240, 738))
axis_labels(CROP_F, 'CD45', 83, 660, (518, 262), 'HLADR', 158, 868, (343, 765))
axis_labels(CROP_G, 'CD45', 60, 720, (578, 322), 'CD38', 132, 930, (265, 738))
axis_labels(CROP_H, 'SSC', 83, 740, (615, 322), 'CD15', 152, 930, (285, 760))


# ---------- summary bars
def summary(crop, spine, y0, ytop, hc, pc, right, ticks, mean, err, hv, hj, pv, pj, label, lx, ly, plus, ptext, ptop):
    step = pc - hc
    xl, yb = px(crop, spine, y0)
    xr, yt = px(crop, right, ytop)
    ax = crop_axes(xl, xr, yt, yb, ((spine - hc) / step, (right - hc) / step), (0, ticks[-1]), zorder=4)
    ax.bar([0, 1], mean, 0.63, facecolor='white', edgecolor='#111111', lw=1.6, zorder=2)
    ax.errorbar([0, 1], mean, yerr=[[0, 0], err], fmt='none', ecolor='#111111', elinewidth=1.6, capsize=5, capthick=1.6, zorder=3)
    ax.scatter(np.array(hj) / step, hv, marker='o', s=42, facecolors='white', edgecolors='#111111', linewidths=1.2, zorder=4, clip_on=False)
    ax.scatter(1 + np.array(pj) / step, pv, marker='^', s=34, facecolors='white', edgecolors='#111111', linewidths=1.2, zorder=4, clip_on=False)
    ax.set_yticks(ticks)
    ax.set_xticks([0, 1], ['H', 'P'])
    ax.tick_params(axis='y', labelsize=15.5, length=8, width=2.2, pad=2)
    ax.tick_params(axis='x', labelsize=15.5, length=0, pad=8)
    for t in ax.get_xticklabels() + ax.get_yticklabels():
        t.set_fontweight('bold')
    for s in ('top', 'right'):
        ax.spines[s].set_visible(False)
    for s in ('left', 'bottom'):
        ax.spines[s].set_linewidth(2.3)
    bx, by = px(crop, lx, ly)
    txt(bx, by, label, 18, rotation=90, weight='bold')
    bx, by = px(crop, plus[0], plus[1])
    txt(bx, by, '+', 12, weight='bold')
    mid = (hc + pc) / 2
    bx, by = px(crop, mid, ptop - 33)
    txt(bx, by, ptext, 10.4)
    x0, yy = px(crop, mid - 35, ptop)
    x1, _ = px(crop, mid + 35, ptop)
    ov.plot([x0, x1], [yy, yy], color='#111111', lw=2.4, solid_capstyle='butt')


summary(CROP_E, 1060, 712, 230, 1100, 1163, 1205, [0, 20, 40, 60, 80], e1_mean, e1_err, e1_h, e1_hj, e1_p, e1_pj, '% CD3', 955, 482, (940, 345), 'ns', 192)
summary(CROP_E, 1397, 700, 218, 1438, 1500, 1543, [0, 2000, 4000, 6000, 8000, 10000], e2_mean, e2_err, e2_h, e2_hj, e2_p, e2_pj, '# CD3', 1247, 480, (1228, 350), '0.0089', 193)
summary(CROP_F, 1083, 710, 232, 1123, 1186, 1230, [0, 10, 20, 30, 40, 50], f1_mean, f1_err, f1_h, f1_hj, f1_p, f1_pj, '% HLADR', 980, 502, (965, 300), 'ns', 195)
summary(CROP_F, 1417, 714, 232, 1458, 1520, 1565, [0, 2000, 4000, 6000, 8000], f2_mean, f2_err, f2_h, f2_hj, f2_p, f2_pj, '# HLADR', 1270, 488, (1258, 310), '0.0129', 195)
summary(CROP_G, 1060, 777, 297, 1100, 1162, 1205, [0, 5, 10, 15], g1_mean, g1_err, g1_h, g1_hj, g1_p, g1_pj, '% CD38', 955, 552, (940, 393), '0.0238', 261)
summary(CROP_G, 1398, 777, 297, 1439, 1501, 1543, [0, 200, 400, 600, 800], g2_mean, g2_err, g2_h, g2_hj, g2_p, g2_pj, '# CD38', 1275, 558, (1258, 413), 'ns', 261)
summary(CROP_H, 1080, 767, 295, 1123, 1186, 1245, [0, 10, 20, 30, 40], h1_mean, h1_err, h1_h, h1_hj, h1_p, h1_pj, '% CD15', 980, 538, (965, 383), '0.0056', 250)
summary(CROP_H, 1415, 765, 285, 1458, 1520, 1568, [0, 500, 1000, 1500], h2_mean, h2_err, h2_h, h2_hj, h2_p, h2_pj, '# CD15', 1275, 548, (1258, 400), '0.0017', 250)

fig.savefig('out.png', dpi=100, facecolor='white')
